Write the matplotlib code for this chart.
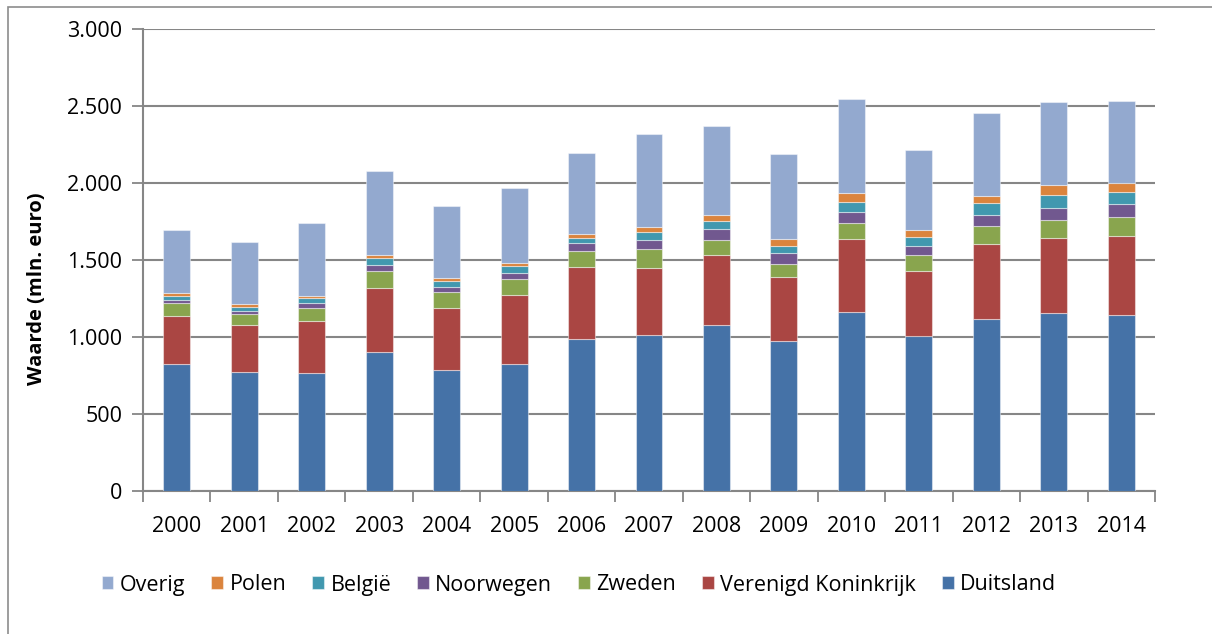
import numpy as np
import matplotlib.pyplot as plt
from matplotlib.patches import Rectangle
from matplotlib.ticker import FuncFormatter

years = ['2000', '2001', '2002', '2003', '2004', '2005', '2006', '2007',
         '2008', '2009', '2010', '2011', '2012', '2013', '2014']

# stacked from bottom to top (mln. euro)
duitsland = [823, 775, 764, 901, 784, 825, 989, 1013, 1076, 972, 1162, 1009, 1117, 1154, 1143]
verenigd_koninkrijk = [311, 303, 342, 417, 406, 450, 466, 437, 455, 416, 476, 422, 489, 487, 515]
zweden = [87, 73, 82, 111, 100, 100, 104, 122, 101, 88, 104, 100, 115, 119, 121]
noorwegen = [19, 20, 33, 39, 37, 43, 53, 60, 69, 67, 72, 62, 73, 80, 83]
belgie = [28, 22, 32, 47, 39, 45, 33, 48, 50, 50, 65, 56, 76, 84, 80]
polen = [18, 23, 15, 18, 19, 20, 26, 33, 39, 41, 58, 48, 48, 63, 56]
overig = [409, 401, 472, 547, 468, 483, 524, 605, 580, 552, 609, 519, 535, 541, 533]

series = [
    ('Duitsland', duitsland, '#4572A7'),
    ('Verenigd Koninkrijk', verenigd_koninkrijk, '#AA4643'),
    ('Zweden', zweden, '#89A54E'),
    ('Noorwegen', noorwegen, '#71588F'),
    ('België', belgie, '#4198AF'),
    ('Polen', polen, '#DB843D'),
    ('Overig', overig, '#93A9CF'),
]

font = 'Open Sans'
fs = 15.5
grid_col = '#868686'

fig = plt.figure(figsize=(12.12, 6.34), dpi=100)
ax = fig.add_axes([143 / 1212, 1 - 491 / 634, (1155 - 143) / 1212, (491 - 29) / 634])

# outer chart frame
fig.patches.append(Rectangle((8 / 1212, -0.1), 1.2, 1 - 7 / 634 + 0.1, transform=fig.transFigure,
                             fill=False, edgecolor='#8c8c8c', linewidth=1.2))

x = np.arange(len(years))
bottom = np.zeros(len(years))
handles = {}
for name, vals, col in series:
    vals = np.array(vals, dtype=float)
    b = ax.bar(x, vals, width=0.4, bottom=bottom, color=col,
               edgecolor=(1, 1, 1, 0.45), linewidth=0.8, zorder=3)
    handles[name] = b
    bottom += vals

ax.set_xlim(-0.5, len(years) - 0.5)
ax.set_ylim(0, 3000)
ax.set_yticks(np.arange(0, 3001, 500))
ax.yaxis.set_major_formatter(FuncFormatter(lambda v, p: f'{int(v):,}'.replace(',', '.')))
ax.yaxis.grid(True, color=grid_col, linewidth=1.5, zorder=0)

ax.set_xticks(x)
ax.set_xticklabels(years)
ax.set_xticks(np.arange(-0.5, len(years), 1), minor=True)
ax.tick_params(axis='x', which='major', length=0, pad=18)
ax.tick_params(axis='x', which='minor', length=8, width=1.3, color=grid_col, direction='out')
ax.tick_params(axis='y', length=8, width=1.3, color=grid_col, direction='out', pad=7)

for label in ax.get_xticklabels() + ax.get_yticklabels():
    label.set_fontname(font)
    label.set_fontsize(fs)

for side in ['top', 'right']:
    ax.spines[side].set_visible(False)
for side in ['left', 'bottom']:
    ax.spines[side].set_color(grid_col)
    ax.spines[side].set_linewidth(1.5)

fig.text(37 / 1212, 1 - 289 / 634, 'Waarde (mln. euro)', rotation=90, ha='center', va='center',
         fontname=font, fontsize=14.5, fontweight='bold')

order = ['Overig', 'Polen', 'België', 'Noorwegen', 'Zweden', 'Verenigd Koninkrijk', 'Duitsland']
leg = fig.legend([handles[n] for n in order], order, loc='center', ncol=7,
                 bbox_to_anchor=(579 / 1212, 1 - 585 / 634), frameon=False,
                 prop={'family': font, 'size': fs}, handlelength=0.55, handleheight=0.55,
                 handletextpad=0.3, columnspacing=1.2)

fig.savefig('out.png', dpi=100)
